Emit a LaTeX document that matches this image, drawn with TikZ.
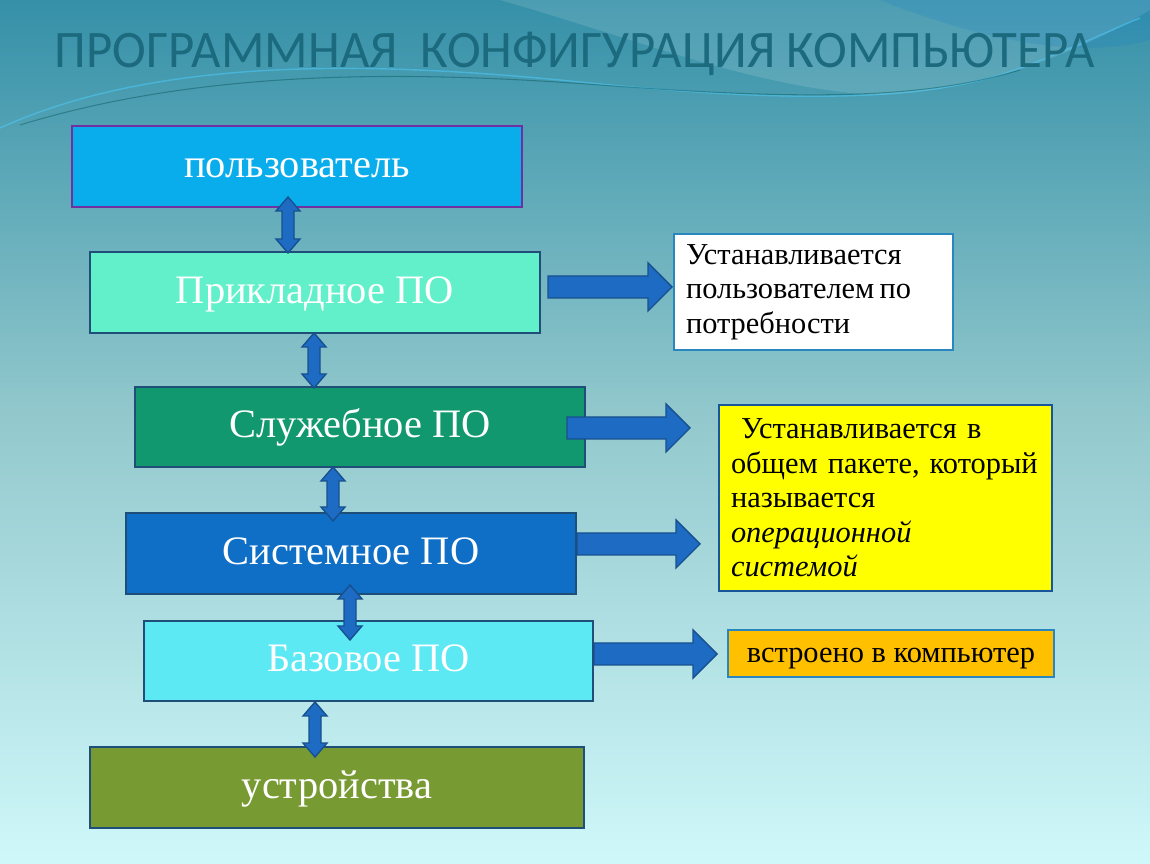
\documentclass[tikz,border=0pt]{standalone}
\usepackage{fontspec}
\setmainfont{Liberation Serif}
\newfontfamily\titlefont{Carlito}
\usetikzlibrary{calc}
\definecolor{bgtop}{HTML}{3590A8}
\definecolor{bgmid}{HTML}{93C9CD}
\definecolor{bgbot}{HTML}{CFF8FA}
\definecolor{titlecol}{HTML}{1B6A7E}
\definecolor{arrfill}{HTML}{1D6BC2}
\definecolor{arrdraw}{HTML}{17508F}
\definecolor{edgeblue}{HTML}{1F4E79}
\definecolor{cUser}{HTML}{0AADEB}
\definecolor{cApp}{HTML}{62F0CA}
\definecolor{cServ}{HTML}{12986E}
\definecolor{cSys}{HTML}{0F6FC6}
\definecolor{cBase}{HTML}{5CE9F4}
\definecolor{cDev}{HTML}{789A32}
\definecolor{cPurple}{HTML}{7030A0}
\definecolor{cYellow}{HTML}{FFFF00}
\definecolor{cOrange}{HTML}{FFC000}
\definecolor{noteedge}{HTML}{2A86BE}
\tikzset{
  level/.style={draw=edgeblue, line width=1.3pt, minimum width=9cm, minimum height=1.62cm,
    inner sep=0pt, outer sep=0pt, text=white, font=\fontsize{23}{27}\selectfont,
    text height=0.62cm, text depth=0.18cm},
  notebox/.style={draw=noteedge, line width=1.3pt, inner xsep=0.24cm, inner ysep=0pt, outer sep=0pt,
    text=black, font=\fontsize{17.3}{19.6}\selectfont},
  note/.style={notebox, align=left},
  blockarr/.style={fill=arrfill, draw=arrdraw, line width=0.8pt, line join=miter}
}
\newcommand{\vdarrow}[2]{%
  \draw[blockarr] (#1) -- ([shift={(12,14)}]#1) -- ([shift={(6,14)}]#1) -- ([shift={(6,-14)}]#2)
    -- ([shift={(12,-14)}]#2) -- (#2) -- ([shift={(-12,-14)}]#2) -- ([shift={(-6,-14)}]#2)
    -- ([shift={(-6,14)}]#1) -- ([shift={(-12,14)}]#1) -- cycle;}
\newcommand{\rarrow}[2]{%
  \draw[blockarr] ([shift={(0,-11)}]#1) -- ([shift={(-24,-11)}]#2) -- ([shift={(-24,-24)}]#2)
    -- (#2) -- ([shift={(-24,24)}]#2) -- ([shift={(-24,11)}]#2) -- ([shift={(0,11)}]#1) -- cycle;}
\begin{document}
\begin{tikzpicture}[x=0.02cm, y=-0.02cm]
\useasboundingbox (0,0) rectangle (1150,864);
% background
\shade[top color=bgtop, bottom color=bgmid] (0,0) rectangle (1150,420);
\shade[top color=bgmid, bottom color=bgbot] (0,420) rectangle (1150,864);
% swooshes
\fill[white, opacity=0.12] (500,0) .. controls (640,40) and (760,90) .. (880,95)
   .. controls (1000,90) and (1100,40) .. (1150,10) -- (1150,0) -- cycle;
\fill[cyan!60!blue, opacity=0.18] (1150,0) -- (880,0) .. controls (980,40) and (1080,60) .. (1150,40) -- cycle;
\draw[cyan!70!white, opacity=0.6, line width=0.8pt] (0,128) .. controls (150,60) and (350,60) .. (560,80)
   .. controls (750,100) and (900,105) .. (1000,75) .. controls (1060,55) and (1110,30) .. (1140,18);
\draw[teal!60!black, opacity=0.4, line width=0.6pt] (20,125) .. controls (200,70) and (400,70) .. (600,85)
   .. controls (800,100) and (920,100) .. (1020,70);
% title
\node[text=titlecol, font=\titlefont\fontsize{30}{34}\selectfont, inner sep=0pt, anchor=base] (title) at (575,68)
  {\scalebox{0.965}[1]{ПРОГРАММНАЯ\ \ КОНФИГУРАЦИЯ КОМПЬЮТЕРА}};
% level boxes
\node[level, fill=cUser, draw=cPurple] (user) at (297,166.5) {пользователь};
\node[level, fill=cApp] (app) at (315,292.5) {Прикладное ПО};
\node[level, fill=cServ, minimum height=1.6cm] (serv) at (360,427) {Служебное ПО};
\node[level, fill=cSys] (sys) at (351,553.5) {Системное ПО};
\node[level, fill=cBase, minimum width=8.98cm, minimum height=1.6cm] (base) at (368.5,661) {Базовое ПО};
\node[level, fill=cDev, minimum width=9.88cm] (dev) at (337,787.5) {устройства};
% notes
\node[note, fill=white, minimum width=5.58cm, minimum height=2.32cm, text width=5.1cm] (n1) at (813.5,292)
  {\rule{0pt}{0.5em}Устанавливается\\пользователем\,по\\потребности};
\node[note, fill=cYellow, draw=arrfill!80!black, minimum width=6.66cm, minimum height=3.72cm, text width=6.18cm] (n2) at (885.5,498)
  {\ Устанавливается в\\общем пакете, который\\называется\\\textit{операционной}\\\textit{системой}};
\node[notebox, fill=cOrange, minimum width=6.52cm, minimum height=0.94cm, text height=0.5cm, text depth=0.12cm] (n3) at (891,653.5)
  {встроено в компьютер};
% vertical double arrows
\coordinate (a1t) at (288,197); \coordinate (a1b) at (288,253);
\coordinate (a2t) at (314,333); \coordinate (a2b) at (314,388);
\coordinate (a3t) at (333,467); \coordinate (a3b) at (333,521);
\coordinate (a4t) at (350,585); \coordinate (a4b) at (350,640);
\coordinate (a5t) at (315,702); \coordinate (a5b) at (315,757);
\vdarrow{a1t}{a1b}
\vdarrow{a2t}{a2b}
\vdarrow{a3t}{a3b}
\vdarrow{a4t}{a4b}
\vdarrow{a5t}{a5b}
% horizontal arrows
\coordinate (h1s) at (548,287); \coordinate (h1e) at (672,287);
\coordinate (h2s) at (567,428); \coordinate (h2e) at (690,428);
\coordinate (h3s) at (577,544); \coordinate (h3e) at (700,544);
\coordinate (h4s) at (594,654); \coordinate (h4e) at (717,654);
\rarrow{h1s}{h1e}
\rarrow{h2s}{h2e}
\rarrow{h3s}{h3e}
\rarrow{h4s}{h4e}
\end{tikzpicture}
\end{document}
